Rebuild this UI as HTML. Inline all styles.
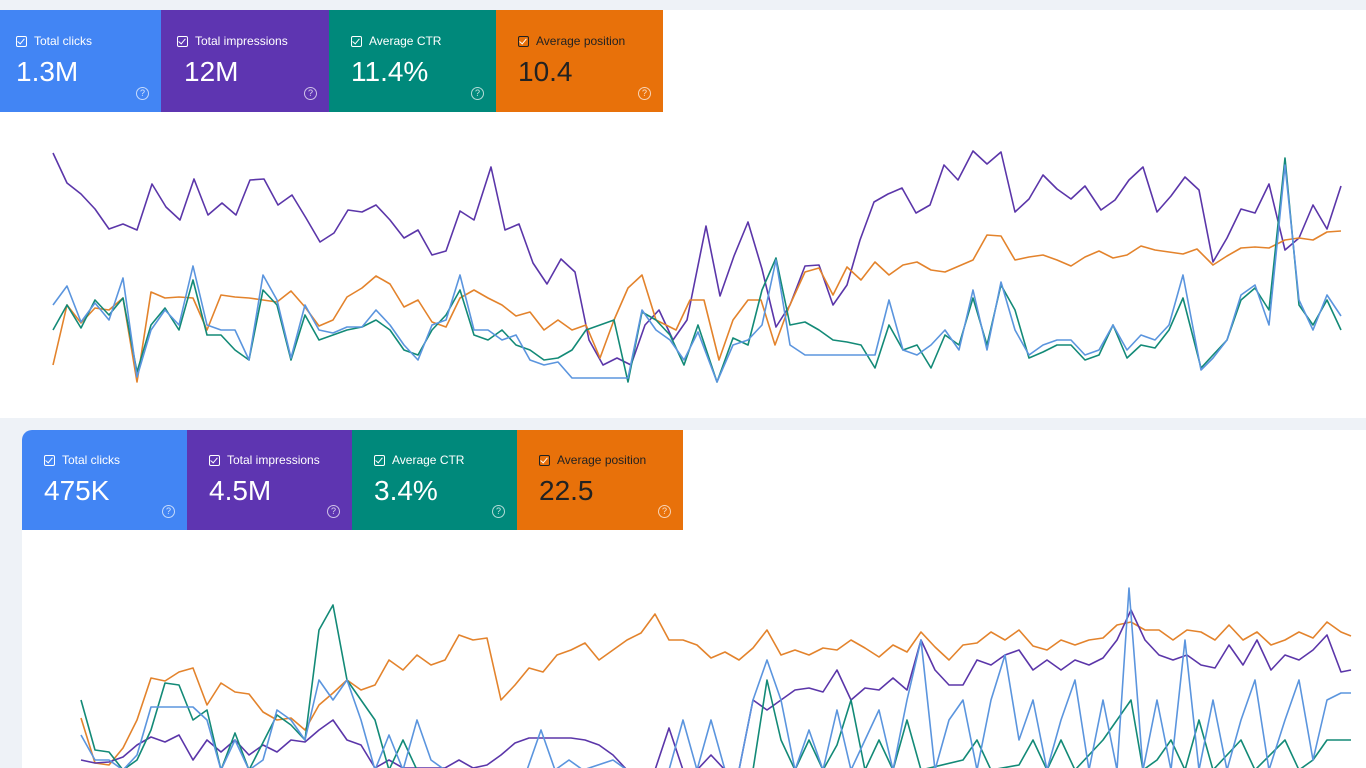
<!DOCTYPE html>
<html><head><meta charset="utf-8"><style>
body{margin:0;width:1366px;height:768px;overflow:hidden;background:#eef2f7;font-family:"Liberation Sans",sans-serif;position:relative}
.panel{position:absolute;background:#fff}
.card{position:absolute;color:#fff;box-sizing:border-box}
.card .t{position:absolute;left:16px;top:24px;font-size:12px;display:flex;align-items:center}
.card .t i{display:inline-block;width:9px;height:9px;border:1.3px solid #fff;border-radius:2px;margin-right:7px;position:relative}
.card .t i:after{content:"";position:absolute;left:2px;top:0px;width:3px;height:6px;border:solid #fff;border-width:0 1.3px 1.3px 0;transform:rotate(40deg)}
.card .v{position:absolute;left:16px;top:46px;font-size:28px}
.card .q{position:absolute;right:12px;bottom:12px;width:11px;height:11px;border:1.2px solid rgba(255,255,255,.7);border-radius:50%;font-size:9px;line-height:11px;text-align:center;color:rgba(255,255,255,.8)}
svg{position:absolute;left:0;top:0}
</style></head><body>
<div class="panel" style="left:0;top:10px;width:1366px;height:408px"></div>
<div class="panel" style="left:22px;top:430px;width:1344px;height:338px;border-radius:10px 0 0 0"></div>

<div class="card" style="left:0;top:10px;width:161px;height:102px;background:#4285f4;border-radius:0"><div class="t"><i></i>Total clicks</div><div class="v">1.3M</div><div class="q">?</div></div>
<div class="card" style="left:161px;top:10px;width:168px;height:102px;background:#5e35b1"><div class="t"><i></i>Total impressions</div><div class="v" style="left:23px">12M</div><div class="q">?</div></div>
<div class="card" style="left:329px;top:10px;width:167px;height:102px;background:#00897b"><div class="t" style="left:22px"><i></i>Average CTR</div><div class="v" style="left:22px">11.4%</div><div class="q">?</div></div>
<div class="card" style="left:496px;top:10px;width:167px;height:102px;background:#e8710a;color:#222"><div class="t" style="left:22px;color:#222"><i style="border-color:#222"></i>Average position</div><div class="v" style="left:22px;color:#222">10.4</div><div class="q">?</div></div>

<div class="card" style="left:22px;top:430px;width:165px;height:100px;background:#4285f4;border-radius:10px 0 0 0"><div class="t" style="left:22px;top:23px"><i></i>Total clicks</div><div class="v" style="left:22px;top:45px">475K</div><div class="q">?</div></div>
<div class="card" style="left:187px;top:430px;width:165px;height:100px;background:#5e35b1"><div class="t" style="left:22px;top:23px"><i></i>Total impressions</div><div class="v" style="left:22px;top:45px">4.5M</div><div class="q">?</div></div>
<div class="card" style="left:352px;top:430px;width:165px;height:100px;background:#00897b"><div class="t" style="left:22px;top:23px"><i></i>Average CTR</div><div class="v" style="left:22px;top:45px">3.4%</div><div class="q">?</div></div>
<div class="card" style="left:517px;top:430px;width:166px;height:100px;background:#e8710a"><div class="t" style="left:22px;top:23px;color:#222"><i style="border-color:#222"></i>Average position</div><div class="v" style="left:22px;top:45px;color:#222">22.5</div><div class="q">?</div></div>

<svg width="1366" height="768" fill="none" stroke-width="1.6" stroke-linejoin="round">
<polyline stroke="#5b36a9" points="53,153 67,183 81,194 95,209 109,229 123,224 137,230 152,184 166,207 180,220 194,179 208,215 222,203 236,215 250,180 264,179 278,205 292,195 306,218 320,242 334,233 348,210 362,212 376,205 390,220 404,238 418,230 432,255 446,251 460,211 474,220 491,167 505,230 519,224 533,263 547,284 561,259 575,272 589,340 603,365 617,358 631,365 645,325 659,310 673,340 687,320 706,226 720,296 734,256 748,222 762,269 776,327 790,305 805,266 819,265 833,305 847,285 860,240 874,202 888,194 902,188 916,213 930,205 944,165 958,180 973,151 987,164 1001,152 1015,212 1029,199 1043,175 1057,189 1071,199 1085,186 1101,210 1115,200 1129,180 1143,167 1157,212 1171,196 1185,177 1199,190 1213,262 1227,238 1241,209 1255,213 1269,184 1285,250 1299,238 1313,205 1327,229 1341,186"/>
<polyline stroke="#e3832c" points="53,365 67,305 81,323 95,308 109,310 123,298 137,382 151,292 165,298 179,297 193,298 207,330 221,295 235,297 249,298 263,300 277,302 291,291 305,307 319,326 333,320 347,297 362,288 376,276 390,284 404,307 418,300 432,322 446,327 460,298 474,290 488,298 502,305 516,316 530,312 544,330 558,320 572,330 586,325 600,358 614,320 628,288 642,275 656,320 676,330 690,300 704,300 719,360 733,320 748,300 761,300 775,345 789,307 805,272 819,268 833,295 847,267 861,280 875,262 889,275 903,265 917,262 931,270 945,272 959,266 973,260 987,235 1001,236 1015,260 1029,257 1043,255 1057,260 1071,266 1085,257 1099,251 1113,258 1127,255 1141,246 1155,250 1169,252 1183,254 1197,249 1213,265 1227,256 1241,248 1255,247 1269,248 1285,240 1299,238 1313,240 1327,232 1341,231"/>
<polyline stroke="#138a77" points="53,330 67,305 81,328 95,300 109,315 123,298 137,372 151,325 165,308 179,330 193,280 207,335 221,335 235,350 249,360 263,290 277,305 291,360 305,315 319,340 333,335 347,330 362,327 376,320 390,330 404,350 418,355 432,330 446,315 460,290 474,335 488,340 502,330 516,345 530,350 544,360 558,358 572,350 586,330 600,325 614,320 628,382 642,312 656,320 670,335 684,365 698,325 717,382 733,338 748,345 762,290 776,258 790,325 805,322 819,330 833,340 847,342 861,345 875,368 889,325 903,350 917,345 931,368 945,335 959,345 973,298 987,345 1001,285 1015,310 1029,358 1043,352 1057,345 1071,345 1085,360 1099,355 1113,325 1127,358 1141,345 1155,348 1169,330 1183,298 1201,368 1213,355 1227,340 1241,300 1255,288 1269,310 1285,158 1299,305 1313,325 1327,300 1341,330"/>
<polyline stroke="#5b95de" points="53,305 67,286 81,322 95,303 109,320 123,278 137,377 151,330 165,310 179,325 193,266 207,325 221,330 235,330 249,360 263,275 277,300 291,358 305,305 319,330 333,333 347,327 362,327 376,310 390,325 404,345 418,360 432,325 446,320 460,275 474,330 488,330 502,340 516,335 530,360 544,365 558,362 572,378 586,378 600,378 614,378 628,378 642,310 656,330 670,340 684,360 698,332 717,382 733,345 748,340 762,325 776,260 790,345 805,355 819,355 833,355 847,355 861,355 875,355 889,300 903,350 917,355 931,345 945,330 959,350 973,290 987,350 1001,282 1015,330 1029,355 1043,345 1057,340 1071,340 1085,355 1099,350 1113,325 1127,350 1141,335 1155,340 1169,325 1183,275 1201,370 1213,358 1227,340 1241,295 1255,285 1269,325 1285,165 1299,300 1313,330 1327,295 1341,316"/>

<polyline stroke="#e3832c" points="81,718 95,763 109,765 123,748 137,720 151,678 165,681 179,672 193,668 207,705 221,683 235,692 249,694 263,712 277,720 291,718 305,730 319,705 333,693 347,680 361,690 375,685 389,660 403,670 417,655 431,665 445,660 459,635 473,640 487,638 501,700 515,685 529,668 543,672 557,655 571,650 585,643 599,660 613,650 627,640 641,633 655,614 669,640 683,640 697,645 711,658 725,652 739,660 753,648 767,630 781,655 795,650 809,655 823,648 837,650 851,640 865,648 879,657 893,645 907,652 921,632 935,647 949,660 963,645 977,643 991,632 1005,640 1019,630 1033,646 1047,650 1061,640 1075,645 1089,640 1103,638 1117,625 1131,622 1145,630 1159,630 1173,640 1187,630 1201,632 1215,640 1229,625 1243,640 1257,632 1271,645 1285,640 1299,632 1313,638 1327,622 1341,632 1351,636"/>
<polyline stroke="#5b36a9" points="81,760 95,763 109,762 123,757 137,745 151,737 165,742 179,735 193,760 207,740 221,752 235,740 249,755 263,745 277,752 291,740 305,742 319,730 333,720 347,740 361,745 375,768 389,760 403,768 445,768 459,760 473,768 487,765 501,755 515,743 529,738 543,738 557,738 571,738 585,740 599,745 613,755 627,770 655,770 669,728 683,770 697,770 711,755 725,770 739,770 753,700 767,710 781,700 795,690 809,688 823,692 837,670 851,700 865,688 879,690 893,678 907,690 921,640 935,670 949,685 963,685 977,660 991,665 1005,655 1019,650 1033,670 1047,660 1061,670 1075,660 1089,665 1103,658 1117,640 1131,610 1145,640 1159,655 1173,660 1187,655 1201,665 1215,668 1229,645 1243,665 1257,640 1271,670 1285,655 1299,660 1313,650 1327,635 1341,672 1351,670"/>
<polyline stroke="#138a77" points="81,700 95,750 109,752 123,770 137,760 151,730 165,683 179,685 193,720 207,710 221,770 235,733 249,770 277,715 291,725 305,740 319,630 333,605 347,680 361,700 375,720 389,770 403,740 417,770 753,770 767,680 781,740 795,770 809,740 823,770 837,745 851,700 865,770 879,740 893,770 907,720 921,770 963,760 977,740 991,770 1019,765 1033,740 1047,770 1061,740 1075,770 1103,740 1117,720 1131,700 1143,770 1157,760 1171,740 1185,770 1199,720 1213,770 1241,740 1255,770 1285,740 1299,770 1313,760 1327,740 1351,740"/>
<polyline stroke="#5b95de" points="81,735 95,760 109,760 123,770 137,755 151,707 193,707 207,720 221,770 235,740 249,770 263,760 277,710 291,720 305,740 319,680 333,700 347,680 361,720 375,770 389,735 403,770 417,720 431,760 445,770 527,770 541,730 555,770 569,760 583,770 613,760 627,770 669,770 683,720 697,770 711,720 725,770 739,770 753,700 767,660 781,700 795,770 809,730 823,770 837,710 851,770 865,740 879,710 893,770 907,700 921,640 935,770 949,720 963,700 977,770 991,700 1005,655 1019,740 1033,700 1047,770 1061,720 1075,680 1089,770 1103,700 1117,770 1129,588 1143,770 1157,700 1171,770 1185,640 1199,770 1213,700 1227,770 1241,720 1255,680 1269,770 1285,720 1299,680 1313,760 1327,700 1341,693 1351,693"/>
</svg>
</body></html>
